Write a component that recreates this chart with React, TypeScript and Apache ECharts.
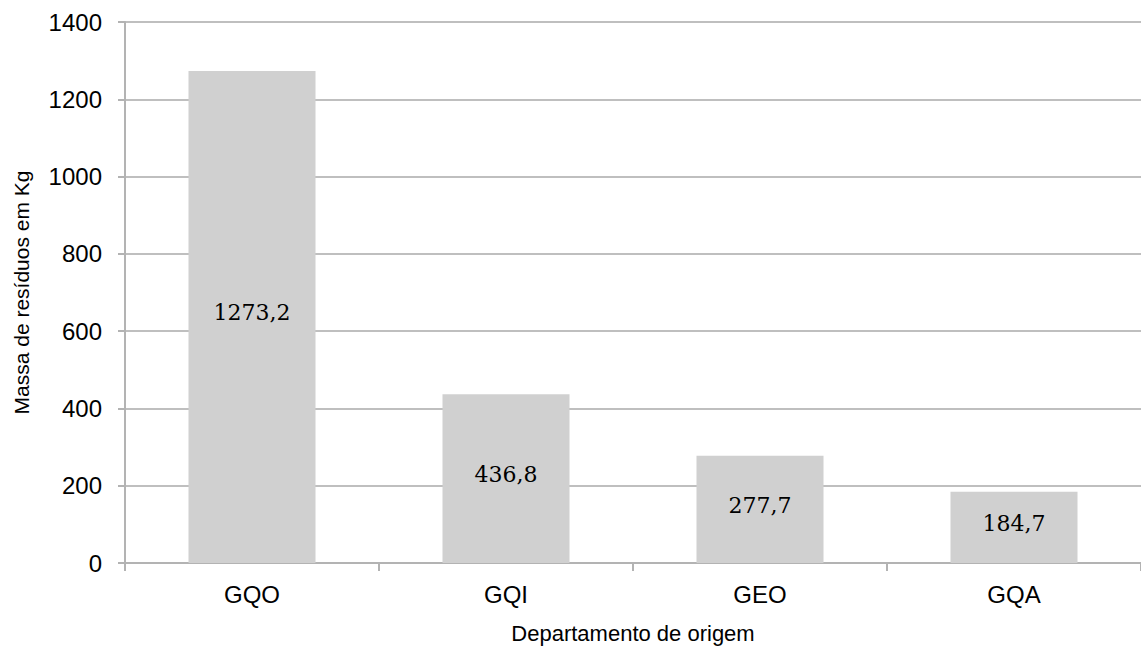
import React, { useEffect, useRef } from "react";
import * as echarts from "echarts";

const categories = ["GQO", "GQI", "GEO", "GQA"];
const values = [1273.2, 436.8, 277.7, 184.7];
const yTicks = { min: 0, max: 1400, interval: 200 };

export default function App() {
  const ref = useRef<HTMLDivElement>(null);
  useEffect(() => {
    document.body.style.margin = "0";
    document.body.style.overflow = "hidden";
    if (!ref.current) return;
    const chart = echarts.init(ref.current, null, { renderer: "svg" });
    chart.setOption({
      animation: false,
      backgroundColor: "#ffffff",
      grid: { left: 125, width: 1031, top: 22, bottom: 81 },
      xAxis: {
        type: "category",
        data: categories,
        name: "Departamento de origem",
        nameLocation: "middle",
        nameGap: 59,
        nameTextStyle: { fontFamily: "Liberation Sans", fontSize: 22, color: "#000" },
        axisLine: { lineStyle: { color: "#b3b3b3", width: 2 } },
        axisTick: { show: true, length: 8, lineStyle: { color: "#b3b3b3", width: 2 } },
        axisLabel: { fontFamily: "Liberation Sans", fontSize: 24, color: "#000", margin: 19 },
      },
      yAxis: {
        type: "value",
        min: yTicks.min,
        max: yTicks.max,
        interval: yTicks.interval,
        name: "Massa de resíduos em Kg",
        nameLocation: "middle",
        nameGap: 93,
        nameTextStyle: { fontFamily: "Liberation Sans", fontSize: 21, color: "#000" },
        axisLine: { show: true, lineStyle: { color: "#b3b3b3", width: 2 } },
        axisTick: { show: true, length: 7, lineStyle: { color: "#b3b3b3", width: 2 } },
        axisLabel: {
          fontFamily: "Liberation Sans",
          fontSize: 24,
          color: "#000",
          margin: 23,
          formatter: (v: number) => String(v),
        },
        splitLine: { show: true, lineStyle: { color: "#bfbfbf", width: 2 } },
      },
      series: [
        {
          type: "bar",
          data: values,
          barWidth: "50%",
          itemStyle: { color: "#d0d0d0" },
          label: {
            show: true,
            position: "inside",
            offset: [0, -4],
            fontFamily: "DejaVu Serif",
            fontSize: 22,
            color: "#000",
            formatter: (p: any) => String(p.value).replace(".", ","),
          },
        },
      ],
    });
    return () => chart.dispose();
  }, []);
  return <div ref={ref} style={{ width: 1141, height: 649, overflow: "hidden" }} />;
}
